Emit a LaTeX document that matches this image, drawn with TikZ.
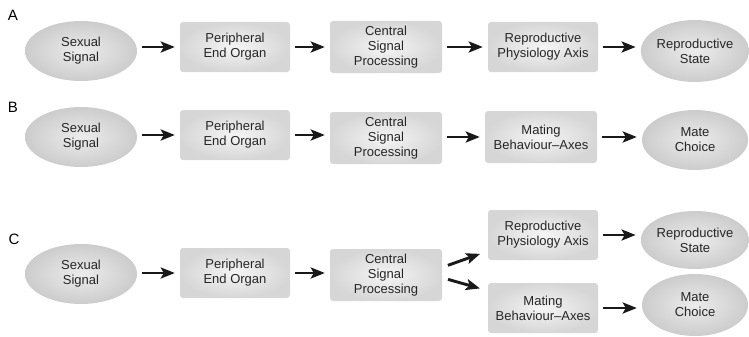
\documentclass[tikz,border=0pt]{standalone}
\usepackage{fontspec}
\setmainfont{Liberation Sans}
\usetikzlibrary{arrows.meta,calc,shapes.geometric}
\tikzset{
  every node/.style={font=\fontsize{13}{15}\selectfont, text=black!85, align=center},
  boxnode/.style={rectangle, rounded corners=3pt, minimum width=110pt, minimum height=50pt,
    inner color=gray!8, outer color=gray!32, inner sep=0pt},
  ellnode/.style={ellipse, minimum width=112pt, minimum height=60pt,
    inner color=gray!15, outer color=gray!40, inner sep=0pt},
  lbl/.style={font=\fontsize{15}{17}\selectfont, text=black},
  flow/.style={-{Stealth[length=14pt,width=11pt,inset=3pt]}, line width=2.9pt, black!90, shorten <=5pt, shorten >=5pt}
}
\begin{document}
\begin{tikzpicture}[x=1pt,y=-1pt]
\useasboundingbox (0,0) rectangle (749,337);
% Row A
\node[lbl] (la) at (13,15) {A};
\node[ellnode] (a1) at (81,51) {Sexual\\Signal};
\node[boxnode] (a2) at (235,47) {Peripheral\\End Organ};
\node[boxnode, minimum width=112pt, minimum height=52pt] (a3) at (386,47) {Central\\Signal\\Processing};
\node[boxnode] (a4) at (543,47) {Reproductive\\Physiology Axis};
\node[ellnode, minimum width=106pt, minimum height=62pt] (a5) at (695,51) {Reproductive\\State};
\draw[flow] (a2.west -| a1.east) -- (a2.west);
\draw[flow] (a2.east) -- (a3.west |- a2.east);
\draw[flow] (a3.east |- a4.west) -- (a4.west);
\draw[flow] (a4.east) -- (a5.west |- a4.east);
% Row B
\node[lbl] (lb) at (13,107) {B};
\node[ellnode] (b1) at (81,137) {Sexual\\Signal};
\node[boxnode] (b2) at (235,135) {Peripheral\\End Organ};
\node[boxnode, minimum width=112pt, minimum height=52pt] (b3) at (386,138) {Central\\Signal\\Processing};
\node[boxnode, minimum width=112pt, minimum height=52pt] (b4) at (541,137) {Mating\\Behaviour--Axes};
\node[ellnode, minimum width=106pt, minimum height=60pt] (b5) at (695,140) {Mate\\Choice};
\draw[flow] (b2.west -| b1.east) -- (b2.west);
\draw[flow] (b2.east) -- (b3.west |- b2.east);
\draw[flow] (b3.east |- b4.west) -- (b4.west);
\draw[flow] (b4.east) -- (b5.west |- b4.east);
% Row C
\node[lbl] (lc) at (14,239) {C};
\node[ellnode] (c1) at (81,274) {Sexual\\Signal};
\node[boxnode] (c2) at (235,273) {Peripheral\\End Organ};
\node[boxnode, minimum width=112pt, minimum height=52pt] (c3) at (386,275) {Central\\Signal\\Processing};
\node[boxnode] (c4) at (543,235) {Reproductive\\Physiology Axis};
\node[boxnode] (c5) at (543,308) {Mating\\Behaviour--Axes};
\node[ellnode, minimum width=106pt, minimum height=58pt] (c6) at (695,240) {Reproductive\\State};
\node[ellnode, minimum width=106pt, minimum height=62pt] (c7) at (695,305) {Mate\\Choice};
\draw[flow] (c2.west -| c1.east) -- (c2.west);
\draw[flow] (c2.east) -- (c3.west |- c2.east);
\coordinate (u0) at ($(c3.east)+(1,-8)$);
\coordinate (u1) at ($(c4.south west)+(-3,-8)$);
\coordinate (d0) at ($(c3.east)+(1,3)$);
\coordinate (d1) at ($(c5.north west)+(-3,7)$);
\draw[flow] (u0) -- (u1);
\draw[flow] (d0) -- (d1);
\draw[flow] (c4.east) -- (c6.west |- c4.east);
\draw[flow] (c5.east) -- (c7.west |- c5.east);
\end{tikzpicture}
\end{document}
